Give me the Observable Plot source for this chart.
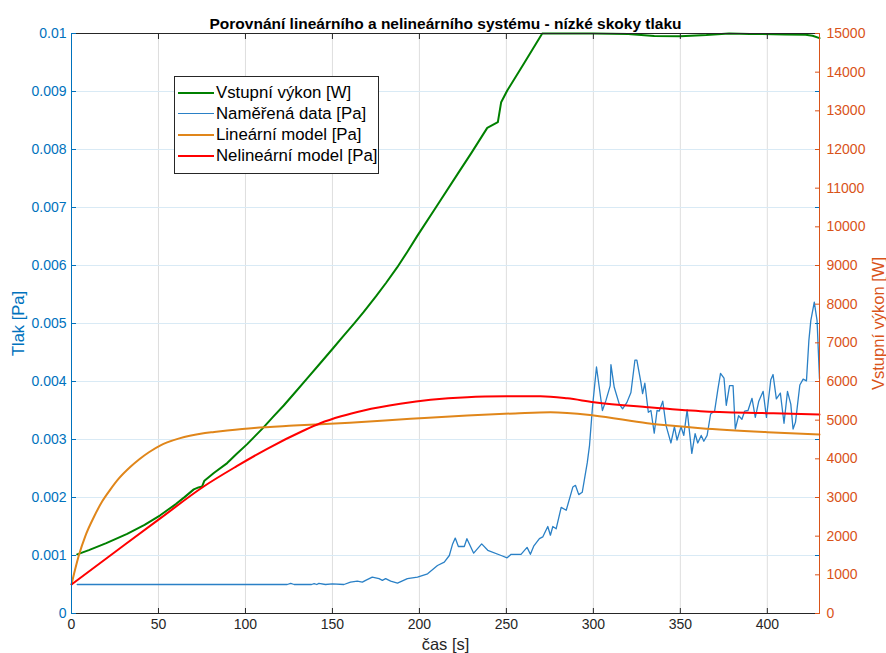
<!DOCTYPE html>
<html>
<head>
<meta charset="utf-8">
<script src="https://cdn.jsdelivr.net/npm/d3@7"></script>
<script src="https://cdn.jsdelivr.net/npm/@observablehq/plot@0.6"></script>
<style>
  body { margin: 0; background: #fff; }
  #wrap { position: relative; width: 886px; height: 653px; font-family: "Liberation Sans", Arial, sans-serif; }
  #legend { position: absolute; left: 174px; top: 76px; width: 203px; height: 91px; border: 1px solid #262626;
            background: #fff; padding-top: 5px; box-sizing: content-box; }
  #legend .row { height: 21px; display: flex; align-items: center; font-size: 16.8px; color: #000; white-space: nowrap; }
  #legend .sw { width: 36px; margin-left: 3px; margin-right: 2px; flex: none; }
</style>
</head>
<body>
<div id="wrap"><div id="chart"></div><div id="legend"></div></div>
<script>
// ---- data ----
const title = "Porovnání lineárního a nelineárního systému - nízké skoky tlaku";
const xLabel = "čas [s]";
const yLabelLeft = "Tlak [Pa]";
const yLabelRight = "Vstupní výkon [W]";
const seriesNames = ["Vstupní výkon [W]", "Naměřená data [Pa]", "Lineární model [Pa]", "Nelineární model [Pa]"];
const seriesColors = ["#008000", "#2a80c6", "#e0861a", "#ff0000"];

const xTicks = [0, 50, 100, 150, 200, 250, 300, 350, 400];
const yTicks = [0, 0.001, 0.002, 0.003, 0.004, 0.005, 0.006, 0.007, 0.008, 0.009, 0.01];
const wTicks = [0, 1000, 2000, 3000, 4000, 5000, 6000, 7000, 8000, 9000, 10000, 11000, 12000, 13000, 14000, 15000];
const xDomain = [0, 430];
const yDomain = [0, 0.01];
const wDomain = [0, 15000];

// Vstupní výkon [W] (right axis)
const powerT = [3.3, 10, 20, 32, 42, 51, 60, 65, 70.3, 73, 75.1, 76.4, 82, 89.5, 95, 101, 109.6, 116, 122, 128, 135.5, 142, 150, 156, 162.3, 168, 175, 181, 187.2, 193, 198.7, 210, 222, 230, 239, 245.1, 247, 250.5, 260, 270.6, 300, 320, 335, 350, 365, 378, 390, 410, 422, 426, 430];
const powerW = [1530, 1640, 1820, 2060, 2290, 2540, 2830, 3010, 3210, 3260, 3285, 3435, 3640, 3890, 4130, 4380, 4776, 5090, 5380, 5690, 6080, 6420, 6840, 7160, 7492, 7800, 8200, 8560, 8950, 9350, 9760, 10540, 11370, 11920, 12560, 12707, 13224, 13526, 14220, 15000, 15000, 14990, 14935, 14930, 14960, 15000, 14990, 14975, 14970, 14940, 14880];

// Naměřená data [Pa]
const measT = [3.3, 60, 124, 126, 128, 138, 139.5, 141, 142.2, 146, 149.9, 156.6, 160.4, 164.3, 167.2, 169.1, 172.9, 176.8, 178.7, 180.6, 183.5, 187.4, 193.1, 198.9, 204.7, 210.4, 214.3, 217.2, 219.1, 220.6, 222.4, 225.8, 227.3, 231.2, 235.8, 239.3, 247, 250.4, 252.7, 258.4, 261.9, 263.8, 265.7, 269, 270.9, 273.8, 275.3, 276.7, 278.6, 281.5, 284.4, 288.2, 289.7, 291.6, 293.6, 294.8, 296.5, 297.8, 299.5, 301.8, 305.2, 307.2, 309.7, 310.1, 312, 314.9, 316.8, 319.3, 321.6, 323.9, 325, 327.3, 328.3, 329.6, 331.6, 333.1, 335, 336.6, 337.9, 339.9, 341.8, 344.6, 346.6, 348.1, 350.4, 352, 353.9, 356.6, 358.5, 360, 362, 363.5, 365.4, 367.4, 369.7, 371.6, 373.1, 375.1, 376.4, 378.3, 380.3, 381.6, 383.5, 385.4, 387, 388.9, 391.2, 393.1, 395.1, 397.6, 399.5, 402, 403.3, 405.2, 407.5, 409.6, 411.6, 413.5, 414.8, 416.2, 418.7, 420.6, 422.5, 423.9, 425, 427, 428.6, 430];
const measV = [0.0005, 0.0005, 0.0005, 0.00052, 0.0005, 0.0005, 0.000515, 0.0005, 0.00052, 0.0005, 0.00051, 0.0005, 0.00054, 0.000557, 0.00054, 0.00057, 0.000626, 0.0006, 0.00057, 0.0006, 0.000557, 0.000523, 0.0006, 0.000626, 0.000684, 0.000828, 0.000885, 0.001, 0.0012, 0.0013, 0.001155, 0.001155, 0.00129, 0.00104, 0.0012, 0.00109, 0.001, 0.00096, 0.00102, 0.00102, 0.00114, 0.00102, 0.00116, 0.00129, 0.00132, 0.0015, 0.00135, 0.0015, 0.00146, 0.00183, 0.00178, 0.00218, 0.00221, 0.00205, 0.00209, 0.0023, 0.0026, 0.0029, 0.00356, 0.00425, 0.0035, 0.00367, 0.00393, 0.00429, 0.0039, 0.00361, 0.00353, 0.00364, 0.00381, 0.00437, 0.00437, 0.00399, 0.00379, 0.00397, 0.00347, 0.0035, 0.00311, 0.0035, 0.00349, 0.00366, 0.00324, 0.00294, 0.00322, 0.00299, 0.00322, 0.00307, 0.00351, 0.00276, 0.0031, 0.00294, 0.00307, 0.00297, 0.00307, 0.00344, 0.00349, 0.00387, 0.00414, 0.00406, 0.00359, 0.00393, 0.00393, 0.00318, 0.00341, 0.00335, 0.00349, 0.0035, 0.00371, 0.00338, 0.00366, 0.00383, 0.00338, 0.00403, 0.00412, 0.0037, 0.0038, 0.00328, 0.00383, 0.00361, 0.00318, 0.0033, 0.00394, 0.00404, 0.00401, 0.00471, 0.00505, 0.00537, 0.00505, 0.00405];

// Lineární model [Pa]
const linT = [0, 2, 4.2, 8, 12.8, 17.6, 22.4, 27, 33.9, 39, 44.5, 51.2, 55, 62, 68, 74.2, 82, 89.5, 105, 127.8, 160, 194.9, 227.5, 255, 275.4, 300.3, 331, 361.6, 400, 430];
const linV = [0.0005, 0.00075, 0.001, 0.00134, 0.00166, 0.00193, 0.00214, 0.00232, 0.00253, 0.00266, 0.00278, 0.0029, 0.00295, 0.00302, 0.003065, 0.0031, 0.00313, 0.003155, 0.0032, 0.00324, 0.00329, 0.003356, 0.003414, 0.00345, 0.00347, 0.003414, 0.00328, 0.003195, 0.003126, 0.003086];

// Nelineární model [Pa]
const nonT = [0, 25, 51, 76, 95, 112.5, 133.5, 143, 155, 168, 189, 206.4, 227.5, 250, 269.6, 285, 300.3, 331, 361.6, 400, 430];
const nonV = [0.0005, 0.00106, 0.00164, 0.00219, 0.00254, 0.00284, 0.003155, 0.00328, 0.0034, 0.0035, 0.003615, 0.003684, 0.00373, 0.003745, 0.003747, 0.00371, 0.003644, 0.003557, 0.003488, 0.003454, 0.00343];

// ---- build ----
const blue = "#0072BD", orange = "#D95319", dark = "#262626";
const k = yDomain[1] / wDomain[1]; // right axis (W) mapped onto left scale range
const power = powerT.map((t, i) => ({t, w: powerW[i]}));
const meas = measT.map((t, i) => ({t, v: measV[i]}));
const lin = linT.map((t, i) => ({t, v: linV[i]}));
const non = nonT.map((t, i) => ({t, v: nonV[i]}));
const fmtL = d => String(+d.toFixed(3));

const chart = Plot.plot({
  width: 886, height: 653,
  marginLeft: 71, marginRight: 67, marginTop: 33, marginBottom: 40,
  style: {fontFamily: "'Liberation Sans', Arial, sans-serif", fontSize: "14px", background: "#fff"},
  x: {domain: xDomain},
  y: {domain: yDomain},
  marks: [
    Plot.gridX(xTicks, {stroke: "#dedede", strokeOpacity: 1}),
    Plot.gridY(yTicks, {stroke: "#d9eaf5", strokeOpacity: 1}),
    Plot.line(power, {x: "t", y: d => d.w * k, stroke: seriesColors[0], strokeWidth: 2}),
    Plot.line(meas, {x: "t", y: "v", stroke: seriesColors[1], strokeWidth: 1.3}),
    Plot.line(lin, {x: "t", y: "v", stroke: seriesColors[2], strokeWidth: 2, curve: "monotone-x"}),
    Plot.line(non, {x: "t", y: "v", stroke: seriesColors[3], strokeWidth: 2, curve: "monotone-x"}),
    Plot.ruleY([yDomain[0]], {stroke: dark}),
    Plot.ruleY([yDomain[1]], {stroke: dark}),
    Plot.axisX({anchor: "top", ticks: xTicks, tickSize: 5, dy: 5, tickFormat: () => "", stroke: dark, label: null}),
    Plot.axisX({anchor: "bottom", ticks: xTicks, tickSize: 5, dy: -5, tickPadding: 6, stroke: dark, fill: dark, label: null}),
    Plot.axisY({anchor: "left", ticks: yTicks, tickSize: 5, dx: 5, tickPadding: 5, tickFormat: fmtL, stroke: blue, fill: blue, label: null}),
    Plot.axisY({anchor: "right", ticks: yTicks, tickSize: 5, dx: -5, tickFormat: () => "", stroke: blue, label: null}),
    Plot.axisY({anchor: "right", ticks: wTicks.map(w => w * k), tickSize: 5, dx: -5, tickPadding: 7, tickFormat: d => String(Math.round(d / k)), stroke: orange, fill: orange, label: null}),
    Plot.ruleX([xDomain[0]], {stroke: blue}),
    Plot.ruleX([xDomain[1]], {stroke: orange}),
    Plot.text([title], {frameAnchor: "top", dy: -16, fontWeight: "bold", fontSize: 15.5, fill: "#000"}),
    Plot.text([xLabel], {frameAnchor: "bottom", dy: 36, fontSize: 16.5, fill: dark}),
    Plot.text([yLabelLeft], {frameAnchor: "left", dx: -53, rotate: -90, textAnchor: "middle", fontSize: 16.5, fill: blue}),
    Plot.text([yLabelRight], {frameAnchor: "right", dx: 59, rotate: -90, textAnchor: "middle", fontSize: 16.5, fill: orange})
  ]
});
document.getElementById("chart").appendChild(chart);

const legend = document.getElementById("legend");
seriesNames.forEach((name, i) => {
  const row = document.createElement("div");
  row.className = "row";
  const sw = document.createElement("span");
  sw.className = "sw";
  sw.style.height = (i === 1 ? 1.3 : 2) + "px";
  sw.style.background = seriesColors[i];
  const tx = document.createElement("span");
  tx.textContent = name;
  row.appendChild(sw); row.appendChild(tx);
  legend.appendChild(row);
});
</script>
</body>
</html>
